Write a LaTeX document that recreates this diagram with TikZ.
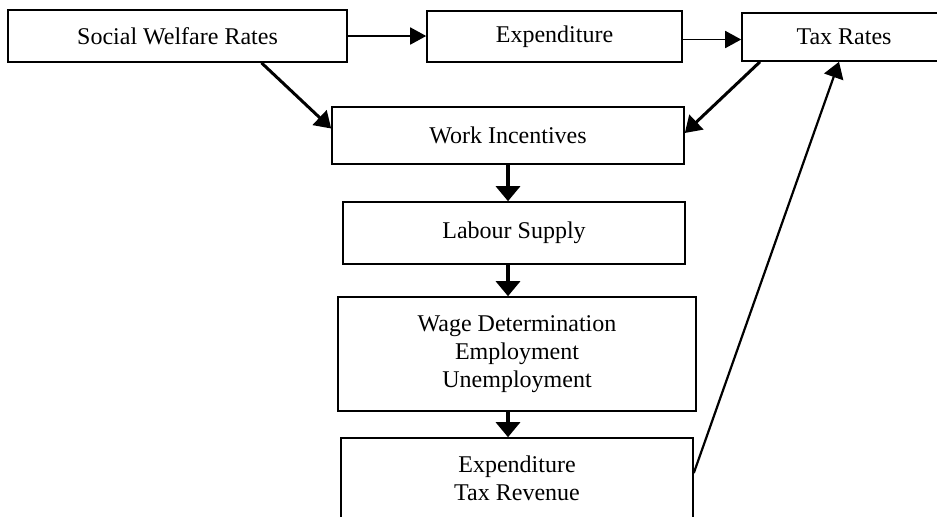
\documentclass[tikz,border=0pt]{standalone}
\usepackage{fontspec}
\setmainfont{Liberation Serif}
\usepackage{tikz}
\usetikzlibrary{shapes, arrows.meta}

\begin{document}
\begin{tikzpicture}[x=0.5pt, y=-0.5pt,
	box/.style={draw, rectangle, line width=0.8pt, align=center,
		font=\fontsize{12}{14}\selectfont},
	flow/.style={-{Triangle[length=8pt, width=10pt]}, line width=1.5pt},
	downflow/.style={-{Triangle[length=7.5pt, width=12pt]}, line width=1.6pt},
	thinflow/.style={-{Triangle[length=8pt, width=8.5pt]}, line width=0.9pt}]
	
	\useasboundingbox (0,0) rectangle (937,516);
	
	\node[box, minimum width=169.5pt, minimum height=26pt] (welfare)     at (177.5,36)
		{Social Welfare Rates};
	\node[box, minimum width=127.5pt, minimum height=25.5pt] (expenditure) at (554.5,36.5)
		{Expenditure};
	\node[box, minimum width=102pt, minimum height=24pt] (taxrates)    at (844,37)
		{Tax Rates};
	\node[box, minimum width=176pt, minimum height=28.5pt] (incentives)  at (508,135.5)
		{Work Incentives};
	\node[box, minimum width=171pt, minimum height=31pt] (labour)      at (514,233)
		{Labour Supply};
	\node[box, minimum width=179pt, minimum height=57pt] (wage)        at (517,354)
		{Wage Determination\\ Employment\\ Unemployment};
	\node[box, minimum width=176pt, minimum height=40pt] (revenue)     at (517,478)
		{Expenditure\\ Tax Revenue};

	\draw[thinflow] (welfare.east) -- (welfare.east -| expenditure.west);
	\draw[thinflow] ([yshift=-1.5pt]expenditure.east) -- ([yshift=-1.5pt]expenditure.east -| taxrates.west);
	\draw[flow] ([xshift=42pt]welfare.south) -- ([yshift=3.5pt]incentives.west);
	\draw[flow] ([xshift=-42pt]taxrates.south) -- ([yshift=1.25pt]incentives.east);
	\draw[downflow] (incentives.south) -- (incentives.south |- labour.north);
	\draw[downflow] (incentives.south |- labour.south) -- (incentives.south |- wage.north);
	\draw[downflow] (incentives.south |- wage.south) -- (incentives.south |- revenue.north);
	\draw[flow, line width=1.1pt] ([yshift=2.5pt]revenue.east) -- ([xshift=-2.5pt]taxrates.south);
\end{tikzpicture}
\end{document}
